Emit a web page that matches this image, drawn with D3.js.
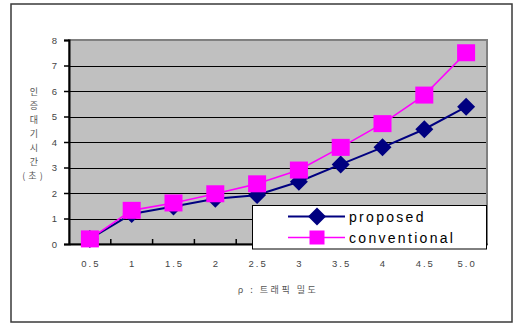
<!DOCTYPE html>
<html>
<head>
<meta charset="utf-8">
<script src="https://cdn.jsdelivr.net/npm/d3@7"></script>
<style>
  html, body { margin: 0; padding: 0; background: #fff; }
  svg { display: block; }
</style>
</head>
<body>
<svg id="chart" width="519" height="324"></svg>
<script>
// Traffic density (rho) categories and mean authentication waiting time (seconds)
const categories = ["0.5", "1", "1.5", "2", "2.5", "3", "3.5", "4", "4.5", "5.0"];
const proposed = [0.2, 1.18, 1.47, 1.77, 1.92, 2.44, 3.12, 3.79, 4.5, 5.38];
const conventional = [0.2, 1.32, 1.61, 1.97, 2.36, 2.9, 3.79, 4.72, 5.84, 7.5];
const yTicks = [0, 1, 2, 3, 4, 5, 6, 7, 8];
const yTitleChars = ["인", "증", "대", "기", "시", "간", "(초)"];
const xTitle = "ρ : 트래픽 밀도";
const seriesNames = ["proposed", "conventional"];

const svg = d3.select("#chart");
const plot = { left: 69, right: 487, top: 40, bottom: 244 };

// outer frame
svg.append("rect")
  .attr("x", 11).attr("y", 4).attr("width", 501).attr("height", 318)
  .attr("fill", "#fff").attr("stroke", "#3a3a3a").attr("stroke-width", 1.5);

const x = d3.scaleBand().domain(categories).range([plot.left, plot.right]).padding(0);
const y = d3.scaleLinear().domain([0, 8]).range([plot.bottom, plot.top]);
const cx = c => x(c) + x.bandwidth() / 2;

// plot background
svg.append("rect")
  .attr("x", plot.left).attr("y", plot.top)
  .attr("width", plot.right - plot.left).attr("height", plot.bottom - plot.top)
  .attr("fill", "#c0c0c0").attr("stroke", "#808080").attr("stroke-width", 2);

// horizontal gridlines
svg.append("g").selectAll("line")
  .data(yTicks.filter(v => v > 0 && v < 8))
  .join("line")
  .attr("x1", plot.left).attr("x2", plot.right - 1)
  .attr("y1", d => Math.round(y(d)) + 0.5).attr("y2", d => Math.round(y(d)) + 0.5)
  .attr("stroke", "#000").attr("stroke-width", 1);

// y axis
const yAxis = d3.axisLeft(y).tickValues(yTicks).tickSize(5).tickPadding(7);
const gy = svg.append("g").attr("transform", `translate(${plot.left},0)`).call(yAxis);
gy.select(".domain").attr("stroke", "#000").attr("stroke-width", 2);
gy.selectAll(".tick line").attr("stroke", "#000").attr("stroke-width", 1.5);
gy.selectAll(".tick text")
  .attr("fill", "#444").attr("font-family", "Liberation Sans, Arial, sans-serif")
  .attr("font-size", 9.5);

// x axis: ticks sit between categories and point up into the plot
const xAxis = d3.axisBottom(x).tickSize(0).tickPadding(16);
const gx = svg.append("g").attr("transform", `translate(0,${plot.bottom})`).call(xAxis);
gx.select(".domain").attr("stroke", "#000").attr("stroke-width", 2);
gx.selectAll(".tick text")
  .attr("fill", "#444").attr("font-family", "Liberation Sans, Arial, sans-serif")
  .attr("font-size", 9.5).attr("letter-spacing", 2)
  .attr("dx", 1);
svg.append("g").selectAll("line")
  .data(categories.slice(1))
  .join("line")
  .attr("x1", d => x(d)).attr("x2", d => x(d))
  .attr("y1", plot.bottom).attr("y2", plot.bottom - 5)
  .attr("stroke", "#000").attr("stroke-width", 1.5);

// y axis title, stacked vertically
svg.append("g").selectAll("text")
  .data(yTitleChars)
  .join("text")
  .attr("x", 34).attr("y", (d, i) => 95 + i * 14)
  .attr("text-anchor", "middle")
  .attr("font-family", "Noto Sans CJK KR, sans-serif")
  .attr("font-size", 9).attr("fill", "#555")
  .attr("letter-spacing", (d) => d.length > 1 ? 3 : 0)
  .text(d => d);

// x axis title
svg.append("text")
  .attr("x", 278).attr("y", 293)
  .attr("text-anchor", "middle")
  .attr("font-family", "Noto Sans CJK KR, sans-serif")
  .attr("font-size", 9).attr("fill", "#555")
  .attr("letter-spacing", 2.5)
  .text(xTitle);

const line = d3.line().x((d, i) => cx(categories[i])).y(d => y(d));

function diamond(g, px, py, r, color) {
  g.append("path")
    .attr("d", `M${px},${py - r}L${px + r},${py}L${px},${py + r}L${px - r},${py}Z`)
    .attr("fill", color);
}
function square(g, px, py, w, h, color) {
  g.append("rect")
    .attr("x", px - w / 2).attr("y", py - h / 2)
    .attr("width", w).attr("height", h).attr("fill", color);
}

// proposed series
const gp = svg.append("g");
gp.append("path").datum(proposed).attr("d", line)
  .attr("fill", "none").attr("stroke", "#000080").attr("stroke-width", 2);
proposed.forEach((v, i) => diamond(gp, cx(categories[i]), y(v), 9, "#000080"));

// conventional series
const gc = svg.append("g");
gc.append("path").datum(conventional).attr("d", line)
  .attr("fill", "none").attr("stroke", "#ff00ff").attr("stroke-width", 1.6);
conventional.forEach((v, i) => square(gc, cx(categories[i]), y(v), 18, 17, "#ff00ff"));

// legend
const lg = svg.append("g");
lg.append("rect")
  .attr("x", 252.5).attr("y", 205.5).attr("width", 234).attr("height", 43.5)
  .attr("fill", "#fff").attr("stroke", "#000").attr("stroke-width", 1);
const legendRows = [
  { name: seriesNames[0], color: "#000080", width: 2, shape: "diamond", yy: 216.5 },
  { name: seriesNames[1], color: "#ff00ff", width: 1.6, shape: "square", yy: 237.5 }
];
legendRows.forEach(r => {
  lg.append("line").attr("x1", 288).attr("x2", 345).attr("y1", r.yy).attr("y2", r.yy)
    .attr("stroke", r.color).attr("stroke-width", r.width);
  if (r.shape === "diamond") diamond(lg, 317, r.yy, 9, r.color);
  else square(lg, 317, r.yy, 15, 14, r.color);
  lg.append("text")
    .attr("x", 349).attr("y", r.yy + 5)
    .attr("font-family", "Liberation Sans, Arial, sans-serif")
    .attr("font-size", 14).attr("fill", "#000")
    .attr("letter-spacing", 2.3)
    .text(r.name);
});
</script>
</body>
</html>
